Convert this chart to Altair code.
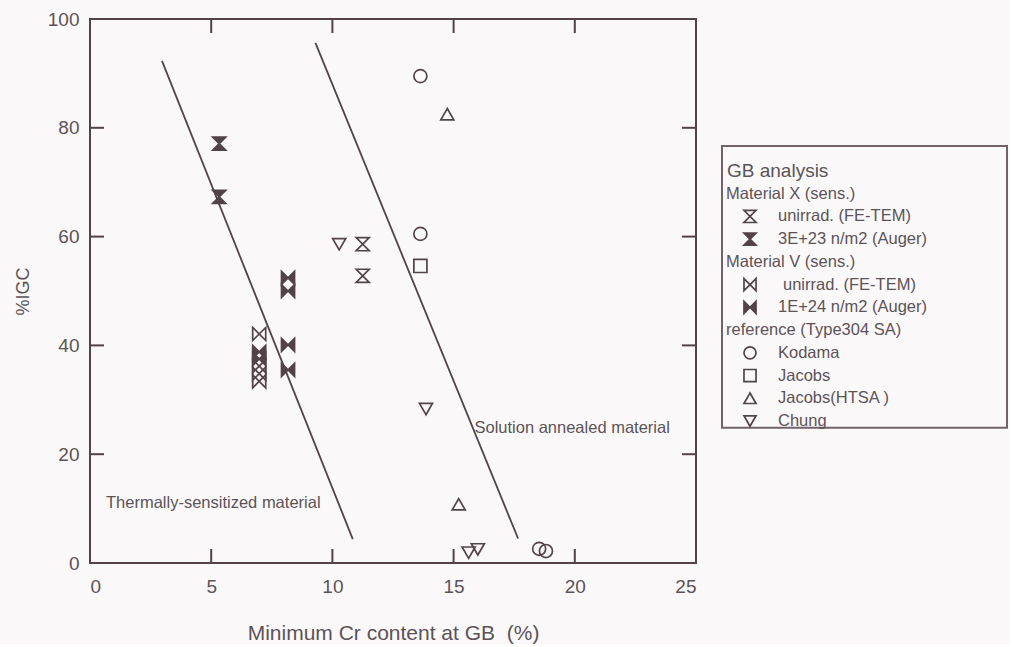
import altair as alt
import pandas as pd

# ---------------- data ----------------
x_ticks = [0, 5, 10, 15, 20, 25]
y_ticks = [0, 20, 40, 60, 80, 100]

matx_unirr_x = [11.25, 11.25]
matx_unirr_y = [58.6, 52.8]
matx_irr_x = [5.33, 5.33]
matx_irr_y = [77.1, 67.3]
matv_unirr_x = [6.98, 6.98, 6.98, 6.98]
matv_unirr_y = [42.1, 36.2, 34.8, 33.4]
matv_irr_x = [8.17, 8.17, 8.17, 8.17, 6.98, 6.98]
matv_irr_y = [52.4, 50.0, 40.1, 35.5, 38.8, 37.5]
kodama_x = [13.63, 13.63, 18.53, 18.81]
kodama_y = [89.5, 60.5, 2.6, 2.2]
jacobs_x = [13.63]
jacobs_y = [54.6]
htsa_x = [14.74, 15.21]
htsa_y = [82.5, 10.8]
chung_x = [10.28, 13.86, 15.62, 16.0]
chung_y = [58.6, 28.3, 1.9, 2.5]

thermal_x = [2.97, 10.84]
thermal_y = [92.3, 4.4]
solution_x = [9.3, 17.66]
solution_y = [95.6, 4.5]

note_text = ["Thermally-sensitized material", "Solution annealed material"]
note_x = [0.66, 15.86]
note_y = [11.0, 24.8]

series_names = [
    "Material X unirrad. (FE-TEM)",
    "Material X 3E+23 n/m2 (Auger)",
    "Material V unirrad. (FE-TEM)",
    "Material V 1E+24 n/m2 (Auger)",
    "Kodama",
    "Jacobs",
    "Jacobs(HTSA )",
    "Chung",
]

legend_labels = [
    "GB analysis",
    "Material X (sens.)",
    "unirrad. (FE-TEM)",
    "3E+23 n/m2 (Auger)",
    "Material V (sens.)",
    "unirrad. (FE-TEM)",
    "1E+24 n/m2 (Auger)",
    "reference (Type304 SA)",
    "Kodama",
    "Jacobs",
    "Jacobs(HTSA )",
    "Chung",
]
legend_kind = ["title", "group", "item", "item", "group", "item2", "item",
               "group", "item", "item", "item", "item"]
legend_series = [None, None, series_names[0], series_names[1], None,
                 series_names[2], series_names[3], None,
                 series_names[4], series_names[5], series_names[6], series_names[7]]

# ---------------- styles ----------------
FONT = "Liberation Sans"
INK = "#524349"
TEXT = "#5c5357"
BG = "#fbf8fa"
W, H = 606, 544
HOUR = "M-1,-1L1,-1L-1,1L1,1Z"
BOW = "M-1,-1L1,1L1,-1L-1,1Z"
shape_range = [HOUR, HOUR, BOW, BOW, "circle", "square", "triangle-up", "triangle-down"]
fill_range = ["transparent", INK, "transparent", INK, "transparent", "transparent", "transparent", "transparent"]

# ---------------- tables ----------------
rows = []
for name, xs_, ys_ in zip(series_names,
                          [matx_unirr_x, matx_irr_x, matv_unirr_x, matv_irr_x, kodama_x, jacobs_x, htsa_x, chung_x],
                          [matx_unirr_y, matx_irr_y, matv_unirr_y, matv_irr_y, kodama_y, jacobs_y, htsa_y, chung_y]):
    for a, b in zip(xs_, ys_):
        rows.append({"x": a, "y": b, "series": name})
points = pd.DataFrame(rows)

lines = pd.DataFrame(
    [{"x": a, "y": b, "line": "thermal"} for a, b in zip(thermal_x, thermal_y)]
    + [{"x": a, "y": b, "line": "solution"} for a, b in zip(solution_x, solution_y)]
)
notes = pd.DataFrame({"x": note_x, "y": note_y, "text": note_text})

x0, x1 = x_ticks[0], x_ticks[-1]
y0, y1 = y_ticks[0], y_ticks[-1]
tick_px = 14
dx = tick_px * (x1 - x0) / W
dy = tick_px * (y1 - y0) / H
tick_rows = []
for v in y_ticks[1:-1]:
    tick_rows.append({"x": x0, "x2": x0 + dx, "y": v, "y2": v})
    tick_rows.append({"x": x1, "x2": x1 - dx, "y": v, "y2": v})
for v in x_ticks[1:-1]:
    tick_rows.append({"x": v, "x2": v, "y": y0, "y2": y0 + dy})
    tick_rows.append({"x": v, "x2": v, "y": y1, "y2": y1 - dy})
ticks = pd.DataFrame(tick_rows)

xs = alt.Scale(domain=[x0, x1], nice=False, zero=False)
ys = alt.Scale(domain=[y0, y1], nice=False, zero=False)
x_axis = alt.Axis(values=x_ticks, grid=False, domain=False, ticks=False, tickSize=0,
                  labelFontSize=19, labelPadding=14, labelColor=TEXT, labelFont=FONT,
                  titleFontSize=21, titleFont=FONT, titleColor=TEXT, titleFontWeight="normal",
                  titlePadding=26)
y_axis = alt.Axis(values=y_ticks, grid=False, domain=False, ticks=False, tickSize=0,
                  labelFontSize=19, labelPadding=11, labelColor=TEXT, labelFont=FONT,
                  titleFontSize=18, titleFont=FONT, titleColor=TEXT, titleFontWeight="normal",
                  titlePadding=15)
XT = "Minimum Cr content at GB\u00a0\u00a0(%)"
YT = "%IGC"


def X(f="x"):
    return alt.X(f"{f}:Q", scale=xs, axis=x_axis, title=XT)


def Y(f="y"):
    return alt.Y(f"{f}:Q", scale=ys, axis=y_axis, title=YT)


shape_enc = alt.Shape("series:N", scale=alt.Scale(domain=series_names, range=shape_range), legend=None)
fill_enc = alt.Fill("series:N", scale=alt.Scale(domain=series_names, range=fill_range), legend=None)

tick_layer = alt.Chart(ticks).mark_rule(color=INK, strokeWidth=2).encode(
    x=X(), x2="x2:Q", y=Y(), y2="y2:Q")
line_layer = alt.Chart(lines).mark_line(color=INK, strokeWidth=1.8).encode(
    x=X(), y=Y(), detail="line:N")
note_layer = alt.Chart(notes).mark_text(align="left", baseline="middle", fontSize=16.5,
                                        font=FONT, color=TEXT).encode(x=X(), y=Y(), text="text:N")
point_layer = alt.Chart(points).mark_point(filled=False, stroke=INK, strokeWidth=1.7,
                                           size=170, opacity=1).encode(
    x=X(), y=Y(), shape=shape_enc, fill=fill_enc)

main = alt.layer(tick_layer, line_layer, note_layer, point_layer).properties(
    width=W, height=H, view=alt.ViewBackground(stroke=INK, strokeWidth=2))

# ---------------- legend panel ----------------
leg = pd.DataFrame({"row": list(range(len(legend_labels))), "label": legend_labels,
                    "kind": legend_kind, "series": legend_series})
row_scale = alt.Scale(domain=[0, len(legend_labels) - 1], range=[152, 402], nice=False, zero=False)
LW = 287
ROWY = alt.Y("row:Q", scale=row_scale, axis=None)
box = alt.Chart(pd.DataFrame({"r0": [-1.1], "r1": [len(legend_labels) - 1 + 0.3]})).mark_rect(
    fill="transparent", stroke="#716369", strokeWidth=2).encode(
    x=alt.value(1), x2=alt.value(LW - 1),
    y=alt.Y("r0:Q", scale=row_scale, axis=None), y2="r1:Q")
title_t = alt.Chart(leg).transform_filter("datum.kind == 'title'").mark_text(
    align="left", baseline="middle", fontSize=19, font=FONT, color=TEXT).encode(
    x=alt.value(6), y=ROWY, text="label:N")
group_t = alt.Chart(leg).transform_filter("datum.kind == 'group'").mark_text(
    align="left", baseline="middle", fontSize=16.5, font=FONT, color=TEXT).encode(
    x=alt.value(5), y=ROWY, text="label:N")
item_t = alt.Chart(leg).transform_filter("datum.kind == 'item'").mark_text(
    align="left", baseline="middle", fontSize=16.5, font=FONT, color=TEXT).encode(
    x=alt.value(57), y=ROWY, text="label:N")
item_t2 = alt.Chart(leg).transform_filter("datum.kind == 'item2'").mark_text(
    align="left", baseline="middle", fontSize=16.5, font=FONT, color=TEXT).encode(
    x=alt.value(62), y=ROWY, text="label:N")
sym = alt.Chart(leg).transform_filter("datum.series != null").mark_point(
    filled=False, stroke=INK, strokeWidth=1.7, size=145, opacity=1).encode(
    x=alt.value(29), y=ROWY, shape=shape_enc, fill=fill_enc)

legend_panel = alt.layer(box, title_t, group_t, item_t, item_t2, sym).properties(width=LW, height=H)

chart = alt.hconcat(main, legend_panel, spacing=22).properties(
    background=BG, padding={"left": 13, "top": 9, "right": 0, "bottom": 0}
).configure_view(stroke="transparent")

chart.save("out.html", embed_options={"renderer": "svg", "actions": False})
